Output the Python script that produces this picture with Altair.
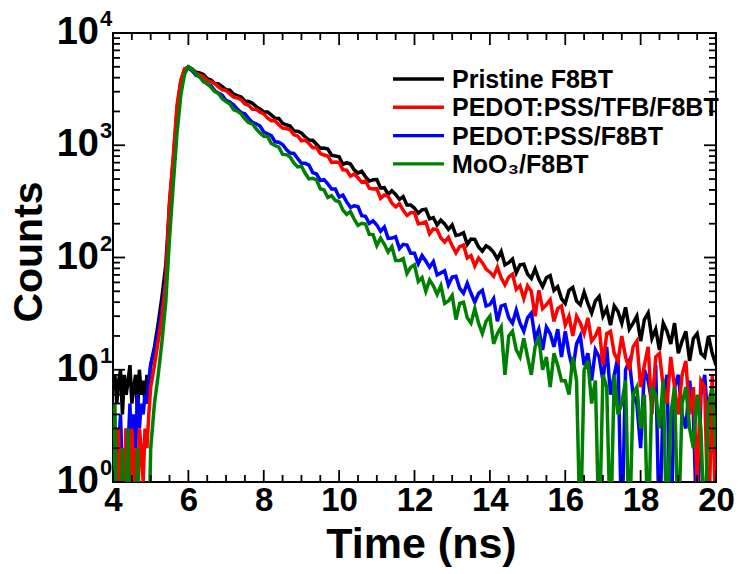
import altair as alt
import pandas as pd

# ---------------- data ----------------
# channel times: 0.05 ns steps before the pulse, 0.1 ns steps afterwards
time_ns = [round(4 + 0.05 * i, 2) for i in range(20)] + [round(5 + 0.1 * i, 1) for i in range(151)]

pristine = [
    7, 9, 5, 8, 10, 4, 9, 6, 8, 11, 5, 7, 9, 4, 10, 6, 8, 5, 9, 7,
    11, 16, 26, 45, 85, 300, 750, 2100, 3700, 4750,
    5000, 4757, 4482, 4404, 4269, 3927, 3813, 3549, 3514, 3326,
    3129, 3091, 2849, 2765, 2695, 2480, 2450, 2366, 2208, 2101,
    1981, 1980, 1865, 1741, 1730, 1568, 1522, 1484, 1343, 1334,
    1287, 1183, 1115, 1107, 1020, 939, 946, 925, 816, 803,
    789, 675, 699, 681, 604, 565, 587, 523, 480, 493,
    494, 416, 419, 365, 394, 364, 330, 349, 293, 293,
    275, 248, 266, 269, 221, 227, 195, 215, 199, 178,
    195, 157, 160, 166, 131, 146, 145, 124, 114, 127,
    121, 111, 97, 113, 86, 90, 97, 73, 86, 87,
    71, 65, 79, 64, 55, 66, 69, 51, 55, 43,
    39, 51, 54, 41, 38, 49, 39, 32, 41, 45,
    30, 35, 25, 37, 33, 26, 36, 23, 26, 30,
    18, 28, 32, 19, 23, 15, 26, 22, 17, 26,
    14, 18, 22, 12, 19, 21, 14, 13, 20, 14,
    11,
]

pedot_tfb = [
    2, 0, 1, 3, 0, 2, 1, 3, 2, 0, 3, 1, 2, 0, 3, 2, 1, 3, 2, 4,
    7, 11, 18, 30, 60, 320, 800, 2300, 3800, 4800,
    4860, 4765, 4373, 4223, 4097, 3754, 3691, 3549, 3297, 3122,
    3074, 2860, 2689, 2636, 2549, 2328, 2268, 2088, 2088, 1966,
    1903, 1753, 1656, 1650, 1523, 1424, 1410, 1369, 1242, 1210,
    1096, 1115, 1037, 953, 959, 842, 819, 803, 703, 708,
    703, 604, 599, 530, 554, 513, 468, 482, 414, 407,
    410, 337, 360, 352, 305, 283, 302, 263, 237, 250,
    251, 200, 202, 208, 163, 180, 177, 149, 137, 151,
    127, 110, 125, 129, 99, 104, 84, 99, 90, 79,
    74, 68, 82, 66, 57, 67, 71, 52, 56, 43,
    56, 50, 30, 51, 35, 38, 42, 27, 35, 37,
    25, 30, 20, 30, 26, 21, 29, 18, 20, 24,
    11, 21, 22, 14, 12, 20, 13, 10, 16, 18,
    7, 11, 16, 4, 13, 14, 7, 5, 13, 7,
    4, 9, 12, 4, 7, 1, 8, 7, 0, 9,
    0,
]

pedot = [
    1, 3, 0, 2, 4, 1, 0, 3, 2, 5, 1, 4, 2, 6, 3, 5, 4, 6, 5, 8,
    11, 15, 22, 36, 65, 280, 650, 1900, 3500, 4600,
    4880, 4606, 4208, 4090, 3801, 3511, 3397, 3067, 2915, 2783,
    2508, 2428, 2296, 2099, 1956, 1907, 1732, 1594, 1553, 1485,
    1312, 1262, 1221, 1074, 1065, 1016, 915, 851, 845, 763,
    691, 690, 666, 570, 554, 486, 494, 452, 407, 408,
    345, 360, 313, 280, 289, 284, 236, 233, 201, 212,
    195, 171, 187, 148, 149, 153, 120, 131, 129, 109,
    109, 88, 104, 93, 82, 92, 70, 73, 76, 57,
    67, 68, 53, 48, 59, 48, 40, 48, 51, 37,
    38, 43, 27, 37, 38, 29, 26, 34, 26, 22,
    29, 32, 19, 23, 15, 24, 21, 16, 23, 13,
    22, 14, 10, 17, 20, 11, 14, 8, 15, 13,
    8, 16, 6, 9, 13, 0, 10, 12, 6, 5,
    2, 10, 8, 5, 11, 0, 6, 9, 0, 7,
    9, 4, 3, 8, 4, 0, 6, 9, 3, 5,
    2,
]

moo3 = [
    0, 5, 0, 1, 0, 2, 0, 0, 3, 0, 1, 0, 0, 2, 0, 1, 0, 0, 1, 0,
    2, 5, 9, 18, 40, 150, 450, 1300, 2800, 4300,
    5000, 4779, 4286, 4058, 3682, 3555, 3281, 3009, 2890, 2593,
    2445, 2337, 2070, 2015, 1903, 1717, 1590, 1550, 1402, 1284,
    1204, 1196, 1037, 994, 961, 829, 825, 784, 695, 641,
    650, 563, 501, 507, 492, 410, 400, 343, 356, 322,
    314, 265, 242, 257, 219, 193, 202, 199, 161, 160,
    128, 149, 131, 112, 125, 94, 94, 98, 72, 82,
    86, 61, 66, 50, 63, 56, 47, 56, 39, 41,
    46, 28, 39, 40, 29, 26, 35, 26, 21, 27,
    30, 17, 21, 24, 9, 20, 22, 15, 13, 19,
    13, 9, 16, 19, 10, 13, 7, 14, 11, 8,
    8, 6, 13, 8, 0, 10, 12, 5, 8, 0,
    9, 7, 0, 9, 4, 5, 8, 0, 6, 7,
    3, 6, 0, 7, 6, 3, 8, 0, 4, 7,
    0, 5, 7, 3, 2, 6, 3, 0, 5, 7,
    2,
]

series_names = ["Pristine F8BT", "PEDOT:PSS/TFB/F8BT", "PEDOT:PSS/F8BT", "MoO\u2083/F8BT"]
series_values = [pristine, pedot_tfb, pedot, moo3]
series_colors = ["#000000", "#ff0000", "#0000ff", "#008000"]
draw_order = [0, 2, 1, 3]

x_major_ticks = [4, 6, 8, 10, 12, 14, 16, 18, 20]
x_minor_ticks = [v / 2 for v in range(8, 41) if v % 4 != 0]
y_major_ticks = [1, 10, 100, 1000, 10000]
y_exponents = ["0", "1", "2", "3", "4"]
y_minor_ticks = [m * 10 ** e for e in range(4) for m in range(2, 10)]

# ---------------- layout ----------------
W, H = 603, 449
FONT = "Liberation Sans"
MAJ, MIN = 12, 7

xscale = alt.Scale(domain=[4, 20], nice=False, zero=False)
yscale = alt.Scale(type="log", domain=[1, 10000], nice=False)

xaxis = alt.Axis(
    values=x_major_ticks, format="d", ticks=False, domain=False, grid=False,
    labelFont=FONT, labelFontWeight="bold", labelFontSize=33, labelColor="black",
    labelPadding=2, labelFlush=False, labelOverlap=False,
    title="Time (ns)", titleFont=FONT, titleFontWeight="bold", titleFontSize=43,
    titleColor="black", titleX=308, titleY=75, titleBaseline="alphabetic",
)
yaxis = alt.Axis(
    labels=False, ticks=False, domain=False, grid=False,
    title="Counts", titleFont=FONT, titleFontWeight="bold", titleFontSize=41,
    titleColor="black", titleAngle=270, titleX=-84, titleY=H / 2 - 6,
    titleAlign="center", titleBaseline="middle",
)

layers = []
for idx in draw_order:
    df = pd.DataFrame({"t": time_ns, "counts": series_values[idx]})
    layers.append(
        alt.Chart(df)
        .transform_calculate(c="max(datum.counts, 0.3)")
        .mark_line(color=series_colors[idx], strokeWidth=3.5, clip=True)
        .encode(
            x=alt.X("t:Q", scale=xscale, axis=xaxis),
            y=alt.Y("c:Q", scale=yscale, axis=yaxis),
        )
    )

# inward ticks on all four sides
def xticks(vals, length):
    df = pd.DataFrame({"v": vals})
    base = alt.Chart(df).mark_rule(color="black", strokeWidth=1.8)
    bottom = base.encode(x=alt.X("v:Q", scale=xscale, axis=xaxis), y=alt.value(H), y2=alt.value(H - length))
    top = base.encode(x=alt.X("v:Q", scale=xscale, axis=xaxis), y=alt.value(0), y2=alt.value(length))
    return [bottom, top]

def yticks(vals, length):
    df = pd.DataFrame({"v": vals})
    base = alt.Chart(df).mark_rule(color="black", strokeWidth=1.8)
    left = base.encode(y=alt.Y("v:Q", scale=yscale, axis=yaxis), x=alt.value(0), x2=alt.value(length))
    right = base.encode(y=alt.Y("v:Q", scale=yscale, axis=yaxis), x=alt.value(W), x2=alt.value(W - length))
    return [left, right]

layers += xticks(x_major_ticks, MAJ) + xticks(x_minor_ticks, MIN)
layers += yticks(y_major_ticks, MAJ) + yticks(y_minor_ticks, MIN)

# y tick labels 10^n
ylab = pd.DataFrame({"v": y_major_ticks, "e": y_exponents})
layers.append(
    alt.Chart(ylab).mark_text(font=FONT, fontWeight="bold", fontSize=38, align="right",
                              baseline="middle", color="black", dy=0)
    .encode(y=alt.Y("v:Q", scale=yscale, axis=yaxis), x=alt.value(-14), text=alt.value("10"))
)
layers.append(
    alt.Chart(ylab).mark_text(font=FONT, fontWeight="bold", fontSize=22, align="left",
                              baseline="middle", color="black", dy=-14)
    .encode(y=alt.Y("v:Q", scale=yscale, axis=yaxis), x=alt.value(-13), text=alt.Text("e:N"))
)

# legend inside the plot
leg_y0, leg_dy = 46, 28.3
for i, (name, col) in enumerate(zip(series_names, series_colors)):
    yy = leg_y0 + i * leg_dy
    ldf = pd.DataFrame({"label": [name]})
    layers.append(
        alt.Chart(ldf).mark_rule(color=col, strokeWidth=3.4)
        .encode(x=alt.value(280), x2=alt.value(331), y=alt.value(yy))
    )
    layers.append(
        alt.Chart(ldf).mark_text(font=FONT, fontWeight="bold", fontSize=25, align="left",
                                 baseline="middle", color="black", dy=1)
        .encode(x=alt.value(339), y=alt.value(yy), text=alt.Text("label:N"))
    )

chart = (
    alt.layer(*layers)
    .properties(
        width=W, height=H,
        padding={"left": 113, "top": 33, "right": 25, "bottom": 92},
        autosize=alt.AutoSizeParams(type="none"),
        background="white",
    )
    .configure_view(stroke="black", strokeWidth=2)
)

chart.save("out.html", embed_options={"renderer": "svg", "actions": False})
